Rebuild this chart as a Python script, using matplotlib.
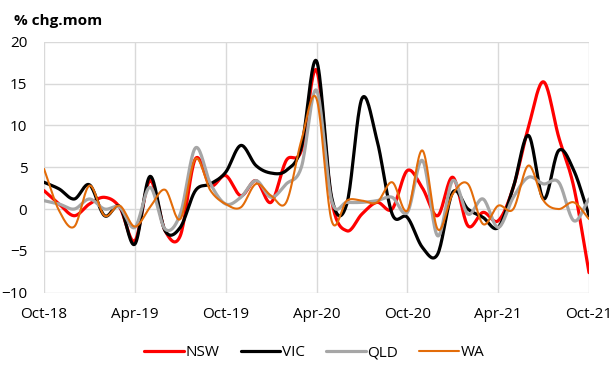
import numpy as np
import matplotlib.pyplot as plt

months = ['Oct-18', 'Nov-18', 'Dec-18', 'Jan-19', 'Feb-19', 'Mar-19', 'Apr-19', 'May-19',
          'Jun-19', 'Jul-19', 'Aug-19', 'Sep-19', 'Oct-19', 'Nov-19', 'Dec-19', 'Jan-20',
          'Feb-20', 'Mar-20', 'Apr-20', 'May-20', 'Jun-20', 'Jul-20', 'Aug-20', 'Sep-20',
          'Oct-20', 'Nov-20', 'Dec-20', 'Jan-21', 'Feb-21', 'Mar-21', 'Apr-21', 'May-21',
          'Jun-21', 'Jul-21', 'Aug-21', 'Sep-21', 'Oct-21']

nsw = [2.2, 0.6, -0.8, 0.6, 1.4, 0.2, -3.8, 3.4, -2.6, -3.2, 6.0, 2.8, 4.0, 1.6, 3.4, 0.8,
       5.8, 7.0, 16.6, 1.0, -2.6, -0.6, 0.8, 0.0, 4.6, 2.5, -0.8, 3.8, -2.0, -0.4, -1.4, 2.6,
       9.8, 15.2, 8.6, 2.6, -7.6]
vic = [3.2, 2.4, 1.2, 2.9, -0.8, 0.3, -4.2, 3.9, -2.6, -2.2, 2.2, 3.0, 4.4, 7.6, 5.2, 4.3,
       4.6, 7.4, 17.7, 1.4, 0.6, 13.2, 8.2, -0.6, -1.0, -4.6, -5.4, 2.0, 0.0, -1.0, -2.2, 2.6,
       8.8, 1.2, 7.0, 4.6, -0.8]
qld = [1.0, 0.6, 0.0, 1.2, 0.0, 0.2, -2.2, 2.6, -2.4, -0.6, 7.3, 3.0, 0.6, 1.4, 3.4, 1.4,
       3.0, 5.0, 14.2, 1.0, 0.8, 0.8, 1.0, 1.4, -0.4, 5.8, -3.2, 3.4, -0.6, 1.2, -2.2, 1.4,
       3.8, 3.0, 3.2, -1.4, 1.2]
wa = [4.8, -0.2, -2.1, 2.8, -0.8, 0.4, -2.1, 0.2, 2.3, -1.2, 6.0, 2.2, 0.6, 0.2, 3.0, 1.6,
      0.8, 8.2, 13.2, -1.4, 1.0, 1.0, 0.8, 3.2, -0.2, 7.0, -2.4, 1.8, 3.0, -1.8, 0.4, 0.0,
      5.2, 1.0, 0.0, 0.8, -1.2]

series = [('NSW', nsw, '#FF0000', 2.3), ('VIC', vic, '#000000', 2.3),
          ('QLD', qld, '#A6A6A6', 2.3), ('WA', wa, '#E36C09', 1.5)]


def smooth(x, y, n=20):
    # catmull-rom style curve through every point, like excel's smoothed lines
    x = np.asarray(x, float)
    y = np.asarray(y, float)
    px = np.concatenate([[2 * x[0] - x[1]], x, [2 * x[-1] - x[-2]]])
    py = np.concatenate([[2 * y[0] - y[1]], y, [2 * y[-1] - y[-2]]])
    t = np.linspace(0, 1, n, endpoint=False)
    xs, ys = [], []
    for i in range(1, len(px) - 2):
        for p, out in ((px, xs), (py, ys)):
            p0, p1, p2, p3 = p[i - 1], p[i], p[i + 1], p[i + 2]
            out.extend(0.5 * (2 * p1 + (-p0 + p2) * t + (2 * p0 - 5 * p1 + 4 * p2 - p3) * t ** 2
                              + (-p0 + 3 * p1 - 3 * p2 + p3) * t ** 3))
    xs.append(x[-1])
    ys.append(y[-1])
    return np.array(xs), np.array(ys)


plt.rcParams['font.family'] = ['Open Sans', 'DejaVu Sans']

fig = plt.figure(figsize=(6.16, 3.65), dpi=100)
ax = fig.add_axes([44 / 616, 1 - 292.7 / 365, 545 / 616, 251 / 365])

x = np.arange(len(months))
for name, vals, color, lw in series:
    sx, sy = smooth(x, vals)
    ax.plot(sx, sy, color=color, lw=lw, label=name, solid_capstyle='round')

ax.set_xlim(0, len(months) - 1)
ax.set_ylim(-10, 20)
ax.set_yticks(range(-10, 21, 5))
ax.set_xticks(x[::6])
ax.set_xticklabels(months[::6])
ax.grid(True, color='#D9D9D9', lw=1)
ax.set_axisbelow(True)
for s in ax.spines.values():
    s.set_visible(False)
ax.tick_params(length=0, labelsize=11)
ax.tick_params(axis='x', pad=10)
ax.tick_params(axis='y', pad=12)

fig.text(0.022, 0.962, '% chg.mom', fontsize=11, fontweight='bold', va='top', ha='left')

fig.legend(loc='center', bbox_to_anchor=(0.51, 0.033), ncol=4, frameon=False,
           fontsize=11, handlelength=2.6, handletextpad=0.1, columnspacing=1.4)

fig.savefig('out.png', dpi=100)
